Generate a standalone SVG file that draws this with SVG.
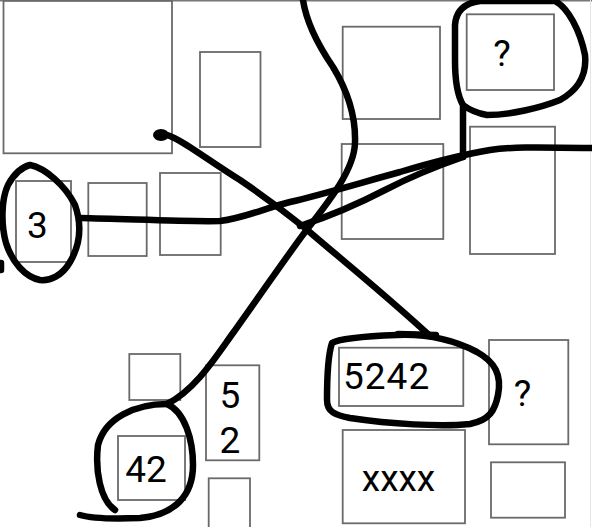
<svg xmlns="http://www.w3.org/2000/svg" width="592" height="527" viewBox="0 0 592 527">
<style>
.box{fill:none;stroke:#6a6a6a;stroke-width:1.8}
.pen{fill:none;stroke:#000;stroke-width:6.5;stroke-linecap:round;stroke-linejoin:round}
.t{font-family:Roboto,"Liberation Sans",sans-serif;font-size:37px;fill:#000}
</style>
<rect width="592" height="527" fill="#fff"/>
<line x1="0" y1="0.8" x2="592" y2="0.8" stroke="#777" stroke-width="1.6"/>
<line x1="590.5" y1="0" x2="590.5" y2="527" stroke="#e6e6e6" stroke-width="1"/>
<g id="n-big"><rect class="box" x="3.5" y="0.8" width="168.5" height="152.5"/></g>
<g id="n-r2"><rect class="box" x="200" y="52" width="60.5" height="95"/></g>
<g id="n-3"><rect class="box" x="16" y="181" width="55" height="81"/><text class="t" x="37.5" y="238" text-anchor="middle" font-size="35">3</text></g>
<g id="n-r4"><rect class="box" x="88.3" y="183" width="58.4" height="73"/></g>
<g id="n-r5"><rect class="box" x="160" y="173" width="60.7" height="82"/></g>
<g id="n-r6"><rect class="box" x="342.7" y="26.7" width="97.3" height="92.3"/></g>
<g id="n-r7"><rect class="box" x="341.7" y="144" width="101.6" height="95"/></g>
<g id="n-q1"><rect class="box" x="466.7" y="14.3" width="87.3" height="75.7"/><text class="t" x="502" y="66" text-anchor="middle" font-size="35">?</text></g>
<g id="n-r9"><rect class="box" x="470" y="126.7" width="85" height="127.3"/></g>
<g id="n-r10"><rect class="box" x="129.3" y="354" width="51" height="46"/></g>
<g id="n-52"><rect class="box" x="206" y="365.3" width="53.3" height="95"/><text class="t" x="230" y="408" text-anchor="middle">5</text><text class="t" x="230" y="453" text-anchor="middle">2</text></g>
<g id="n-42"><rect class="box" x="118" y="436" width="67" height="64"/><text class="t" x="146" y="482" text-anchor="middle">42</text></g>
<g id="n-r13"><rect class="box" x="208.7" y="478.3" width="41.3" height="60"/></g>
<g id="n-5242"><rect class="box" x="339" y="347.7" width="124.3" height="58.3"/><text class="t" x="343" y="389" letter-spacing="1">5242</text></g>
<g id="n-q2"><rect class="box" x="489" y="340" width="79.3" height="104.3"/><text class="t" x="522.5" y="406" text-anchor="middle" font-size="35">?</text></g>
<g id="n-xxxx"><rect class="box" x="342.7" y="430" width="122.3" height="93.3"/><text class="t" x="398.5" y="491" text-anchor="middle" font-size="40">xxxx</text></g>
<g id="n-r17"><rect class="box" x="491" y="462.3" width="74" height="55.4"/></g>
<g id="connectors">
<path class="pen" d="M303,0 C306,20 318,45 333,67 C347,90 356,115 355,143 C354,170 330,200 305,232 C290,252 260,295 233,333 C215,358 195,390 167,404 C185,412 193,440 193,465 C193,495 175,515 140,518 C115,519 90,518 80,515"/>
<path class="pen" d="M167,404 C135,404 105,418 98,445 C95,470 100,500 115,510"/>
<ellipse cx="161" cy="135" rx="8" ry="6" fill="#000"/>
<path class="pen" d="M161,134 C175,134 200,155 240,180 C265,197 285,212 305,228 C330,250 380,290 430,336"/>
<path class="pen" d="M30,165 C45,168 65,185 75,205 C82,225 80,245 70,262 C62,276 50,281 40,280 C25,277 12,262 6,243 C1,225 1,200 8,185 C14,174 22,167 30,165 Z"/>
<path class="pen" d="M1,263 L1,270"/>
<path class="pen" d="M80,218 C130,219 190,222 220,221 C245,218 265,208 290,202 C320,195 360,183 400,172 C430,163 460,155 490,150 C510,147 530,147 592,148"/>
<path class="pen" d="M463,157 L463,105 C457,95 455,80 455,60 L455,25 C456,10 465,3 480,1 L555,1 C568,8 580,30 585,55 C587,75 578,90 560,100 C540,108 510,115 487,115 C475,113 467,108 463,105"/>
<path class="pen" d="M463,157 C440,165 410,177 385,190 C360,203 330,216 300,226"/>
<path class="pen" d="M397,335 C420,334 450,338 477,352 C495,362 502,375 498,395 C495,410 490,420 470,424 C440,427 390,424 350,418 C335,415 327,412 327,400 C327,380 328,355 332,343 C340,338 370,336 397,335 Z"/>
<path class="pen" d="M398,334 L436,335" stroke-width="8"/>
</g>
</svg>
